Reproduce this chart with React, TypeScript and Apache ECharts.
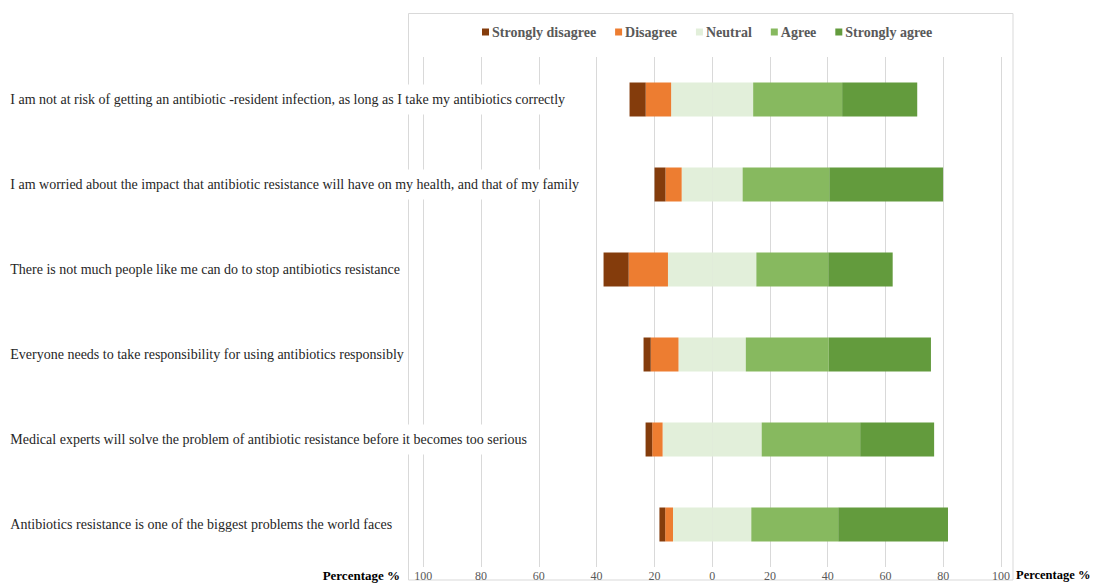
import React, { useEffect, useRef } from "react";
import * as echarts from "echarts";

const categories = [
  "I am not at risk of getting an antibiotic -resident infection, as long as I take my antibiotics correctly",
  "I am worried about the impact that antibiotic resistance will have on my health, and that of my family",
  "There is not much people like me can do to stop antibiotics resistance",
  "Everyone needs to take responsibility for using antibiotics responsibly",
  "Medical experts will solve the problem of antibiotic resistance before it becomes too serious",
  "Antibiotics resistance is one of the biggest problems the world faces",
];

const stronglyDisagree = [5.6, 3.8, 8.7, 2.5, 2.3, 2.0];
const disagree = [8.8, 5.6, 13.6, 9.6, 3.6, 2.7];
const neutral = [28.4, 21.1, 30.6, 23.3, 34.3, 27.1];
const agree = [30.8, 30.0, 24.9, 28.7, 34.1, 30.1];
const stronglyAgree = [26.0, 39.4, 22.3, 35.4, 25.6, 38.0];

const legendNames = ["Strongly disagree", "Disagree", "Neutral", "Agree", "Strongly agree"];
const colors = {
  sd: "#843C0C",
  d: "#ED7D31",
  n: "#E2EFDA",
  a: "#87B95F",
  sa: "#639B3D",
};

const SERIF = "'Liberation Serif', 'Times New Roman', serif";

export default function App() {
  const ref = useRef<HTMLDivElement>(null);

  useEffect(() => {
    if (!ref.current) return;
    const chart = echarts.init(ref.current, null, { renderer: "svg" });

    const bar = (name: string, data: number[], color: string) => ({
      name,
      type: "bar",
      stack: "total",
      barWidth: 34,
      data,
      itemStyle: { color },
      emphasis: { disabled: true },
    });

    chart.setOption({
      animation: false,
      backgroundColor: "#ffffff",
      legend: {
        data: legendNames,
        left: 477,
        top: 20,
        itemWidth: 7,
        itemHeight: 7,
        itemGap: 19,
        icon: "rect",
        selectedMode: false,
        textStyle: {
          fontFamily: SERIF,
          fontWeight: "bold",
          fontSize: 14,
          color: "#595959",
          padding: [0, 0, 0, -2],
        },
      },
      grid: { left: 423.3, right: 98, top: 57, bottom: 16, containLabel: false, outerBoundsMode: "none" },
      xAxis: {
        type: "value",
        min: -100,
        max: 100,
        interval: 20,
        axisLine: { show: false },
        axisTick: { show: false },
        splitLine: { show: true, lineStyle: { color: "#d9d9d9", width: 1 } },
        axisLabel: {
          formatter: (v: number) => String(Math.abs(v)),
          fontFamily: SERIF,
          fontSize: 12,
          color: "#595959",
          margin: 3,
        },
      },
      yAxis: {
        type: "category",
        inverse: true,
        data: categories,
        axisLine: { show: false },
        axisTick: { show: false },
        splitLine: { show: false },
        axisLabel: {
          align: "left",
          margin: 413,
          fontFamily: SERIF,
          fontSize: 14,
          color: "#262626",
          backgroundColor: "#ffffff",
          padding: [6, 4, 10, 0],
        },
      },
      graphic: [
        {
          type: "rect",
          z: -10,
          silent: true,
          shape: { x: 408.5, y: 13.5, width: 604.5, height: 566.5 },
          style: { fill: "none", stroke: "#d9d9d9", lineWidth: 1 },
        },
        {
          type: "text",
          x: 400,
          y: 575,
          style: {
            text: "Percentage %",
            fontFamily: SERIF,
            fontWeight: "bold",
            fontSize: 13,
            fill: "#000000",
            align: "right",
            verticalAlign: "middle",
          },
        },
        {
          type: "text",
          x: 1016,
          y: 575,
          style: {
            text: "Percentage %",
            fontFamily: SERIF,
            fontWeight: "bold",
            fontSize: 12.5,
            fill: "#000000",
            align: "left",
            verticalAlign: "middle",
          },
        },
      ],
      series: [
        bar("Neutral", neutral.map((v) => -v / 2), colors.n),
        bar("Neutral", neutral.map((v) => v / 2), colors.n),
        bar("Disagree", disagree.map((v) => -v), colors.d),
        bar("Agree", agree, colors.a),
        bar("Strongly disagree", stronglyDisagree.map((v) => -v), colors.sd),
        bar("Strongly agree", stronglyAgree, colors.sa),
      ],
    });

    return () => chart.dispose();
  }, []);

  return (
    <div
      ref={ref}
      style={{ position: "fixed", left: 0, top: 0, width: 1099, height: 583, background: "#fff" }}
    />
  );
}
